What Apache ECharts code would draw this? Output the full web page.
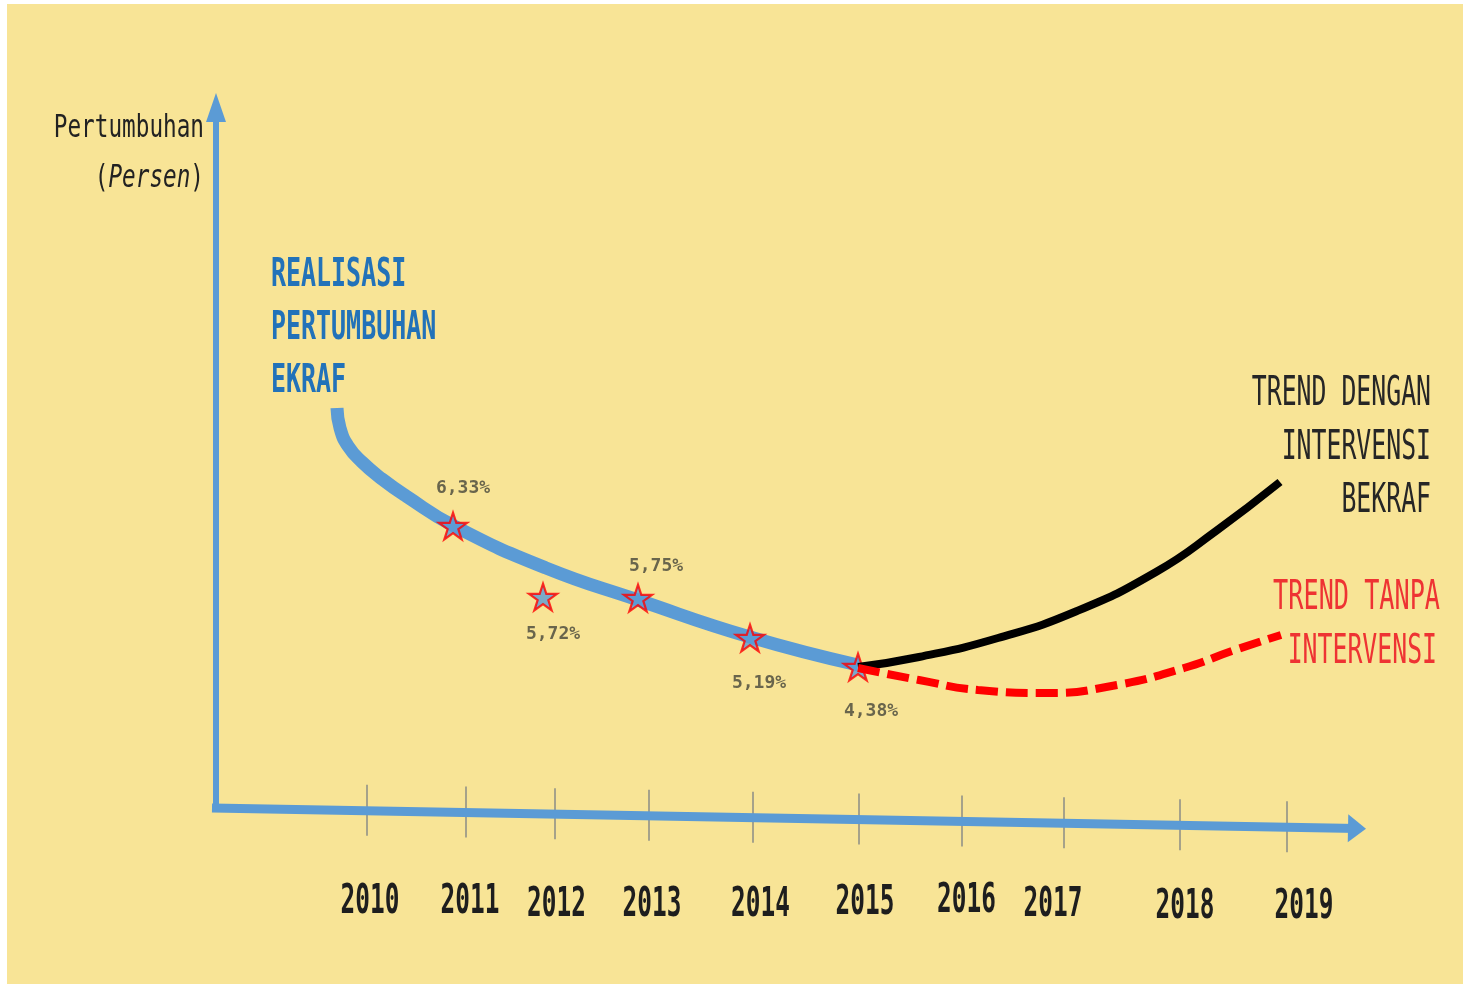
<!DOCTYPE html>
<html>
<head>
<meta charset="utf-8">
<script src="https://cdn.jsdelivr.net/npm/echarts@6/dist/echarts.min.js"></script>
<style>
html,body{margin:0;padding:0;background:#ffffff;}
#chart{width:1463px;height:984px;}
</style>
</head>
<body>
<div id="chart"></div>
<script>
// ---------------- DATA (x in years, y in relative height units of the sketch) ----------------
const yearLabels = ['2010','2011','2012','2013','2014','2015','2016','2017','2018','2019'];
const tickYears = [2010.065, 2011.06, 2011.95, 2012.885, 2013.93, 2014.99, 2016.02, 2017.04, 2018.20, 2019.27];
const yearLabelX = [2010.10, 2011.10, 2011.965, 2012.92, 2014.005, 2015.05, 2016.065, 2016.93, 2018.25, 2019.44];
const yearLabelLevel = [-9.5, -9.5, -9.8, -9.8, -9.8, -9.55, -9.35, -9.75, -10.0, -10.0];

const growthLabels = ['6,33%','5,72%','5,75%','5,19%','4,38%'];
const starX = [2010.93, 2011.83, 2012.78, 2013.90, 2014.98];
const starLevel = [28.2, 21.1, 21.0, 17.0, 14.1];

const realisasiX = [2009.77, 2009.80, 2009.88, 2010.02, 2010.22, 2010.46, 2010.94, 2011.86, 2012.78, 2013.90, 2014.98];
const realisasiLevel = [40.0, 38.0, 36.2, 34.6, 32.9, 31.2, 28.2, 24.0, 20.8, 17.1, 14.3];

const denganX = [2014.98, 2015.59, 2016.38, 2017.17, 2017.96, 2018.56, 2019.20];
const denganLevel = [14.1, 15.1, 17.0, 19.7, 23.6, 27.7, 32.6];

const tanpaX = [2014.98, 2015.59, 2016.18, 2016.86, 2017.57, 2018.24, 2018.75, 2019.21];
const tanpaLevel = [14.0, 12.8, 11.8, 11.5, 12.3, 14.0, 15.8, 17.3];

// ---------------- LAYOUT / STYLE ----------------
const FONT = 'DejaVu Sans Mono';
const BLUE = '#5B9BD5';
const X_MIN = 2008.52, X_MAX = 2020.1, Y_MIN = -12, Y_MAX = 72;
const xAxisStart = [2008.52, 0];
const xAxisEnd = [2019.97, -2.05];
const yAxisX = 2008.56, yAxisBottom = -0.4, yAxisTop = 70.05;
function axisLevelAt(x){
  return xAxisStart[1] + (x - xAxisStart[0]) / (xAxisEnd[0] - xAxisStart[0]) * (xAxisEnd[1] - xAxisStart[1]);
}
const starPath = 'path://M50,0 L61.23,34.55 L97.55,34.55 L68.16,55.9 L79.39,90.45 L50,69.1 L20.61,90.45 L31.84,55.9 L2.45,34.55 L38.77,34.55 Z';
const starLabelOffsets = [[10,-38],[10,37],[18,-32],[9,45],[13,44]];

function zip(xs, ys){ return xs.map((x,i)=>[x, ys[i]]); }

function txt(text, x, y, size, sx, color, align, weight){
  return {
    type:'text', x:x, y:y, scaleX:sx, silent:true, z:10,
    style:{ text:text, fontFamily:FONT, fontSize:size, fontWeight:weight||'normal', fill:color,
            align:align, verticalAlign:'middle' }
  };
}

const graphics = [
  { type:'rect', silent:true, z:-10, shape:{x:7, y:4, width:1456, height:980}, style:{fill:'#F8E496'} },
  txt('Pertumbuhan', 204, 129, 31.5, 0.72, '#222222', 'right'),
  {
    type:'text', x:204, y:178.5, scaleX:0.72, silent:true, z:10,
    style:{ text:'({i|Persen})', fontFamily:FONT, fontSize:31.5, fill:'#222222', align:'right', verticalAlign:'middle',
            rich:{ i:{ fontFamily:FONT, fontSize:31.5, fontStyle:'italic', fill:'#222222' } } }
  },
  txt('REALISASI', 271, 276, 38.4, 0.65, '#2272B9', 'left', 'bold'),
  txt('PERTUMBUHAN', 271, 329, 38.4, 0.65, '#2272B9', 'left', 'bold'),
  txt('EKRAF', 271, 382.5, 38.4, 0.65, '#2272B9', 'left', 'bold'),
  txt('TREND DENGAN', 1431, 394.5, 40, 0.62, '#262626', 'right'),
  txt('INTERVENSI', 1431, 449, 40, 0.62, '#262626', 'right'),
  txt('BEKRAF', 1431, 502, 40, 0.62, '#262626', 'right'),
  txt('TREND TANPA', 1440, 599, 40, 0.63, '#EE3333', 'right'),
  txt('INTERVENSI', 1437, 652.5, 40, 0.62, '#EE3333', 'right')
];

const chart = echarts.init(document.getElementById('chart'), null, {renderer:'canvas'});
chart.setOption({
  animation:false,
  backgroundColor:'#ffffff',
  graphic: graphics,
  grid:{ left:212, right:93, top:88, bottom:56, containLabel:false },
  xAxis:{ type:'value', min:X_MIN, max:X_MAX, show:false, splitLine:{show:false} },
  yAxis:{ type:'value', min:Y_MIN, max:Y_MAX, show:false, splitLine:{show:false} },
  series:[
    {
      name:'ticks', type:'line', data:[], z:1, silent:true,
      markLine:{
        silent:true, symbol:['none','none'], label:{show:false}, emphasis:{disabled:true},
        lineStyle:{ color:'#8b8d86', width:1.5, type:'solid' },
        data: tickYears.map(x => [ {coord:[x, axisLevelAt(x)+2.6]}, {coord:[x, axisLevelAt(x)-2.5]} ])
      }
    },
    {
      name:'axes', type:'line', data:[], z:2, silent:true,
      markLine:{
        silent:true, symbol:['none','triangle'], label:{show:false}, emphasis:{disabled:true},
        lineStyle:{ color:BLUE, type:'solid', width:6 },
        data:[
          [ {coord:[yAxisX, yAxisBottom], lineStyle:{color:BLUE, width:6, type:'solid'}}, {coord:[yAxisX, yAxisTop], symbolSize:[20,29]} ],
          [ {coord:xAxisStart, lineStyle:{color:BLUE, width:9, type:'solid'}}, {coord:xAxisEnd, symbolSize:[28,18]} ]
        ]
      }
    },
    {
      name:'Realisasi Pertumbuhan Ekraf', type:'line', z:3, smooth:0.5, symbol:'none', silent:true,
      lineStyle:{ color:BLUE, width:13, cap:'butt' },
      data: zip(realisasiX, realisasiLevel)
    },
    {
      name:'Pertumbuhan', type:'scatter', z:4, silent:true,
      symbol: starPath, symbolSize:28, symbolKeepAspect:true,
      itemStyle:{ color:BLUE, borderColor:'#FF0000', borderWidth:2.2 },
      label:{ show:true, position:'inside', fontFamily:FONT, fontSize:18, fontWeight:'bold', color:'#45453a',
              formatter: p => growthLabels[p.dataIndex] },
      data: starX.map((x,i)=>({ value:[x, starLevel[i]], label:{ offset: starLabelOffsets[i] } }))
    },
    {
      name:'Trend dengan intervensi Bekraf', type:'line', z:5, smooth:0.5, symbol:'none', silent:true,
      lineStyle:{ color:'#000000', width:8, cap:'butt' },
      data: zip(denganX, denganLevel)
    },
    {
      name:'Trend tanpa intervensi', type:'line', z:5, smooth:0.5, symbol:'none', silent:true,
      lineStyle:{ color:'#FF0000', width:8, type:[22,8], cap:'butt' },
      data: zip(tanpaX, tanpaLevel)
    },
    {
      name:'years', type:'custom', z:6, silent:true,
      data: zip(yearLabelX, yearLabelLevel),
      renderItem:(params, api) => {
        const p = api.coord([api.value(0), api.value(1)]);
        return {
          type:'text', x:p[0], y:p[1], scaleX:0.61,
          style:{ text: yearLabels[params.dataIndex], fontFamily:FONT, fontSize:40, fontWeight:'bold',
                  fill:'#1e1e1e', align:'center', verticalAlign:'middle' }
        };
      }
    }
  ]
});
</script>
</body>
</html>
